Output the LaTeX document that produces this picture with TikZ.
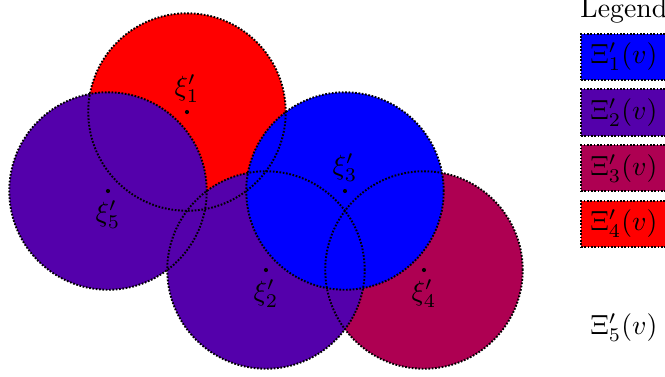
\documentclass[tikz,border=0pt]{standalone}
\usepackage{xcolor}
\usetikzlibrary{positioning}

\definecolor{purp}{RGB}{84,0,171}
\definecolor{crim}{RGB}{174,0,82}

\begin{document}
\begin{tikzpicture}[
  ring/.style={draw=black, line width=0.7pt, dash pattern=on 0.6pt off 0.6pt},
  legbox/.style={ring, inner sep=3.33pt},
  ctr/.style={fill=black},
  lab/.style={inner sep=3.33pt}]
  \useasboundingbox (-2.367,-3.342) rectangle (6.051,1.418);
  \coordinate (x1) at (0,0);
  \coordinate (x2) at (1,-2);
  \coordinate (x3) at (2,-1);
  \coordinate (x4) at (3,-2);
  \coordinate (x5) at (-1,-1);
  % fills, back to front
  \fill[red] (x1) circle (1.25);
  \fill[crim] (x4) circle (1.25);
  \fill[purp] (x5) circle (1.25);
  \fill[purp] (x2) circle (1.25);
  \fill[blue] (x3) circle (1.25);
  % dotted outlines on top
  \draw[ring] (x1) circle (1.25);
  \draw[ring] (x2) circle (1.25);
  \draw[ring] (x3) circle (1.25);
  \draw[ring] (x4) circle (1.25);
  \draw[ring] (x5) circle (1.25);
  % centres
  \fill[ctr] (x1) circle (0.75pt) node[lab, above] (t1) {$\xi'_1$};
  \fill[ctr] (x2) circle (0.75pt) node[lab, below] (t2) {$\xi'_2$};
  \fill[ctr] (x3) circle (0.75pt) node[lab, above] (t3) {$\xi'_3$};
  \fill[ctr] (x4) circle (0.75pt) node[lab, below] (t4) {$\xi'_4$};
  \fill[ctr] (x5) circle (0.75pt) node[lab, below] (t5) {$\xi'_5$};
  % legend
  \node[legbox, fill=blue] (l1) at (5.53,0.70) {$\Xi'_1(v)$};
  \node[legbox, fill=purp, below=2.7pt of l1] (l2) {$\Xi'_2(v)$};
  \node[legbox, fill=crim, below=2.7pt of l2] (l3) {$\Xi'_3(v)$};
  \node[legbox, fill=red, below=2.7pt of l3] (l4) {$\Xi'_4(v)$};
  \node[inner sep=3.33pt, below=20pt of l4] (l5) {$\Xi'_5(v)$};
  \node[above=0pt of l1] (lt) {Legend};
\end{tikzpicture}
\end{document}
